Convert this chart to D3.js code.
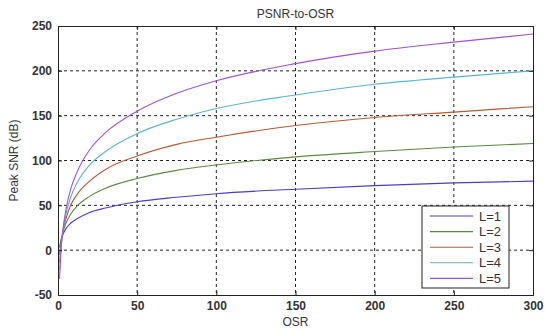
<!DOCTYPE html>
<meta charset="utf-8">
<style>
body { margin: 0; background: #fff; }
.axis text { font-family: 'Liberation Sans', Arial, sans-serif; font-size: 12px; font-weight: bold; fill: #333; }
.axis line, .axis path { stroke: #222; }
.grid line { stroke: #222; stroke-dasharray: 3,3; stroke-width: 1; }
.lbl { font-family: 'Liberation Sans', Arial, sans-serif; font-size: 12px; fill: #333; }
.leg { font-family: 'Liberation Sans', Arial, sans-serif; font-size: 13px; fill: #333; }
</style>
<body>
<div id="chart"></div>
<script src="https://cdn.jsdelivr.net/npm/d3@7"></script>
<script>

// OSR sample points and peak SNR (dB)
var osr = [1, 2, 3, 5, 8, 12, 20, 30, 50, 75, 100, 150, 200, 250, 300];
var snrL1 = [3, 12, 17, 24, 30, 35, 42, 47, 54, 59, 63, 68, 72, 75, 77];
var snrL2 = [-5, 10, 19, 30, 40, 49, 60, 69, 80, 89, 95, 104, 110, 115, 119];
var snrL3 = [-14, 7, 20, 35, 50, 62, 77, 90, 105, 118, 126, 139, 148, 154, 160];
var snrL4 = [-22, 5, 20, 40, 59, 75, 95, 110, 130, 146, 158, 173, 185, 193, 200];
var snrL5 = [-32, 2, 21, 45, 68, 87, 112, 131, 155, 175, 189, 208, 222, 232, 241];

var seriesNames = ["L=1", "L=2", "L=3", "L=4", "L=5"];
var seriesColors = ["#4a3cd0", "#5a8a40", "#b85a30", "#5ab4d4", "#a452d4"];
var xTicks = [0, 50, 100, 150, 200, 250, 300];
var yTicks = [-50, 0, 50, 100, 150, 200, 250];

var allSeries = [snrL1, snrL2, snrL3, snrL4, snrL5];

// set the dimensions and margins of the graph
var margin = {top: 26, right: 17, bottom: 37, left: 58},
    width = 550 - margin.left - margin.right,
    height = 332 - margin.top - margin.bottom;

var svg = d3.select("#chart").append("svg")
    .attr("width", 550)
    .attr("height", 332)
  .append("g")
    .attr("transform", "translate(" + margin.left + "," + margin.top + ")");

var x = d3.scaleLinear().domain([0, 300]).range([0, width]);
var y = d3.scaleLinear().domain([-50, 250]).range([height, 0]);

// grid lines
svg.append("g").attr("class", "grid")
    .selectAll("line")
    .data(xTicks.slice(1, -1))
    .enter().append("line")
    .attr("x1", function(d) { return x(d); })
    .attr("x2", function(d) { return x(d); })
    .attr("y1", 0).attr("y2", height);

svg.append("g").attr("class", "grid")
    .selectAll("line")
    .data(yTicks.slice(1, -1))
    .enter().append("line")
    .attr("y1", function(d) { return y(d); })
    .attr("y2", function(d) { return y(d); })
    .attr("x1", 0).attr("x2", width);

// curves
var line = d3.line().curve(d3.curveMonotoneX)
    .x(function(d, i) { return x(osr[i]); })
    .y(function(d) { return y(d); });

svg.append("g")
    .selectAll("path")
    .data(allSeries)
    .enter().append("path")
    .attr("d", line)
    .style("fill", "none")
    .style("stroke-width", 1.1)
    .style("stroke", function(d, i) { return seriesColors[i]; });

// axes (plain hyphen for negatives, like the original)
var fmt = function(d) { return String(d); };

svg.append("g")
    .attr("class", "axis")
    .attr("transform", "translate(0," + height + ")")
    .call(d3.axisBottom(x).tickValues(xTicks).tickSize(-4).tickPadding(6).tickFormat(fmt));

svg.append("g")
    .attr("class", "axis")
    .call(d3.axisLeft(y).tickValues(yTicks).tickSize(-4).tickPadding(6).tickFormat(fmt));

svg.append("g")
    .attr("class", "axis")
    .attr("transform", "translate(" + width + ",0)")
    .call(d3.axisRight(y).tickValues(yTicks).tickSize(-4).tickFormat(""));

svg.append("g")
    .attr("class", "axis")
    .call(d3.axisTop(x).tickValues(xTicks).tickSize(-4).tickFormat(""));

// title and labels
svg.append("text")
    .attr("class", "lbl")
    .attr("x", width / 2)
    .attr("y", -8)
    .attr("text-anchor", "middle")
    .text("PSNR-to-OSR");

svg.append("text")
    .attr("class", "lbl")
    .attr("x", width / 2)
    .attr("y", height + 31)
    .attr("text-anchor", "middle")
    .text("OSR");

svg.append("text")
    .attr("class", "lbl")
    .attr("transform", "rotate(-90)")
    .attr("x", -height / 2)
    .attr("y", -40)
    .attr("text-anchor", "middle")
    .text("Peak SNR (dB)");

// legend
var legend = svg.append("g")
    .attr("transform", "translate(" + (422 - margin.left) + "," + (206 - margin.top) + ")");

legend.append("rect")
    .attr("width", 87)
    .attr("height", 82)
    .style("fill", "#fff")
    .style("stroke", "#222");

var entry = legend.selectAll(".entry")
    .data(seriesNames)
    .enter().append("g")
    .attr("transform", function(d, i) { return "translate(0," + (10 + i * 15.6) + ")"; });

entry.append("line")
    .attr("x1", 8).attr("x2", 51)
    .style("stroke-width", 1.1)
    .style("stroke", function(d, i) { return seriesColors[i]; });

entry.append("text")
    .attr("class", "leg")
    .attr("x", 57)
    .attr("dy", "0.35em")
    .text(function(d) { return d; });

</script>
</body>
